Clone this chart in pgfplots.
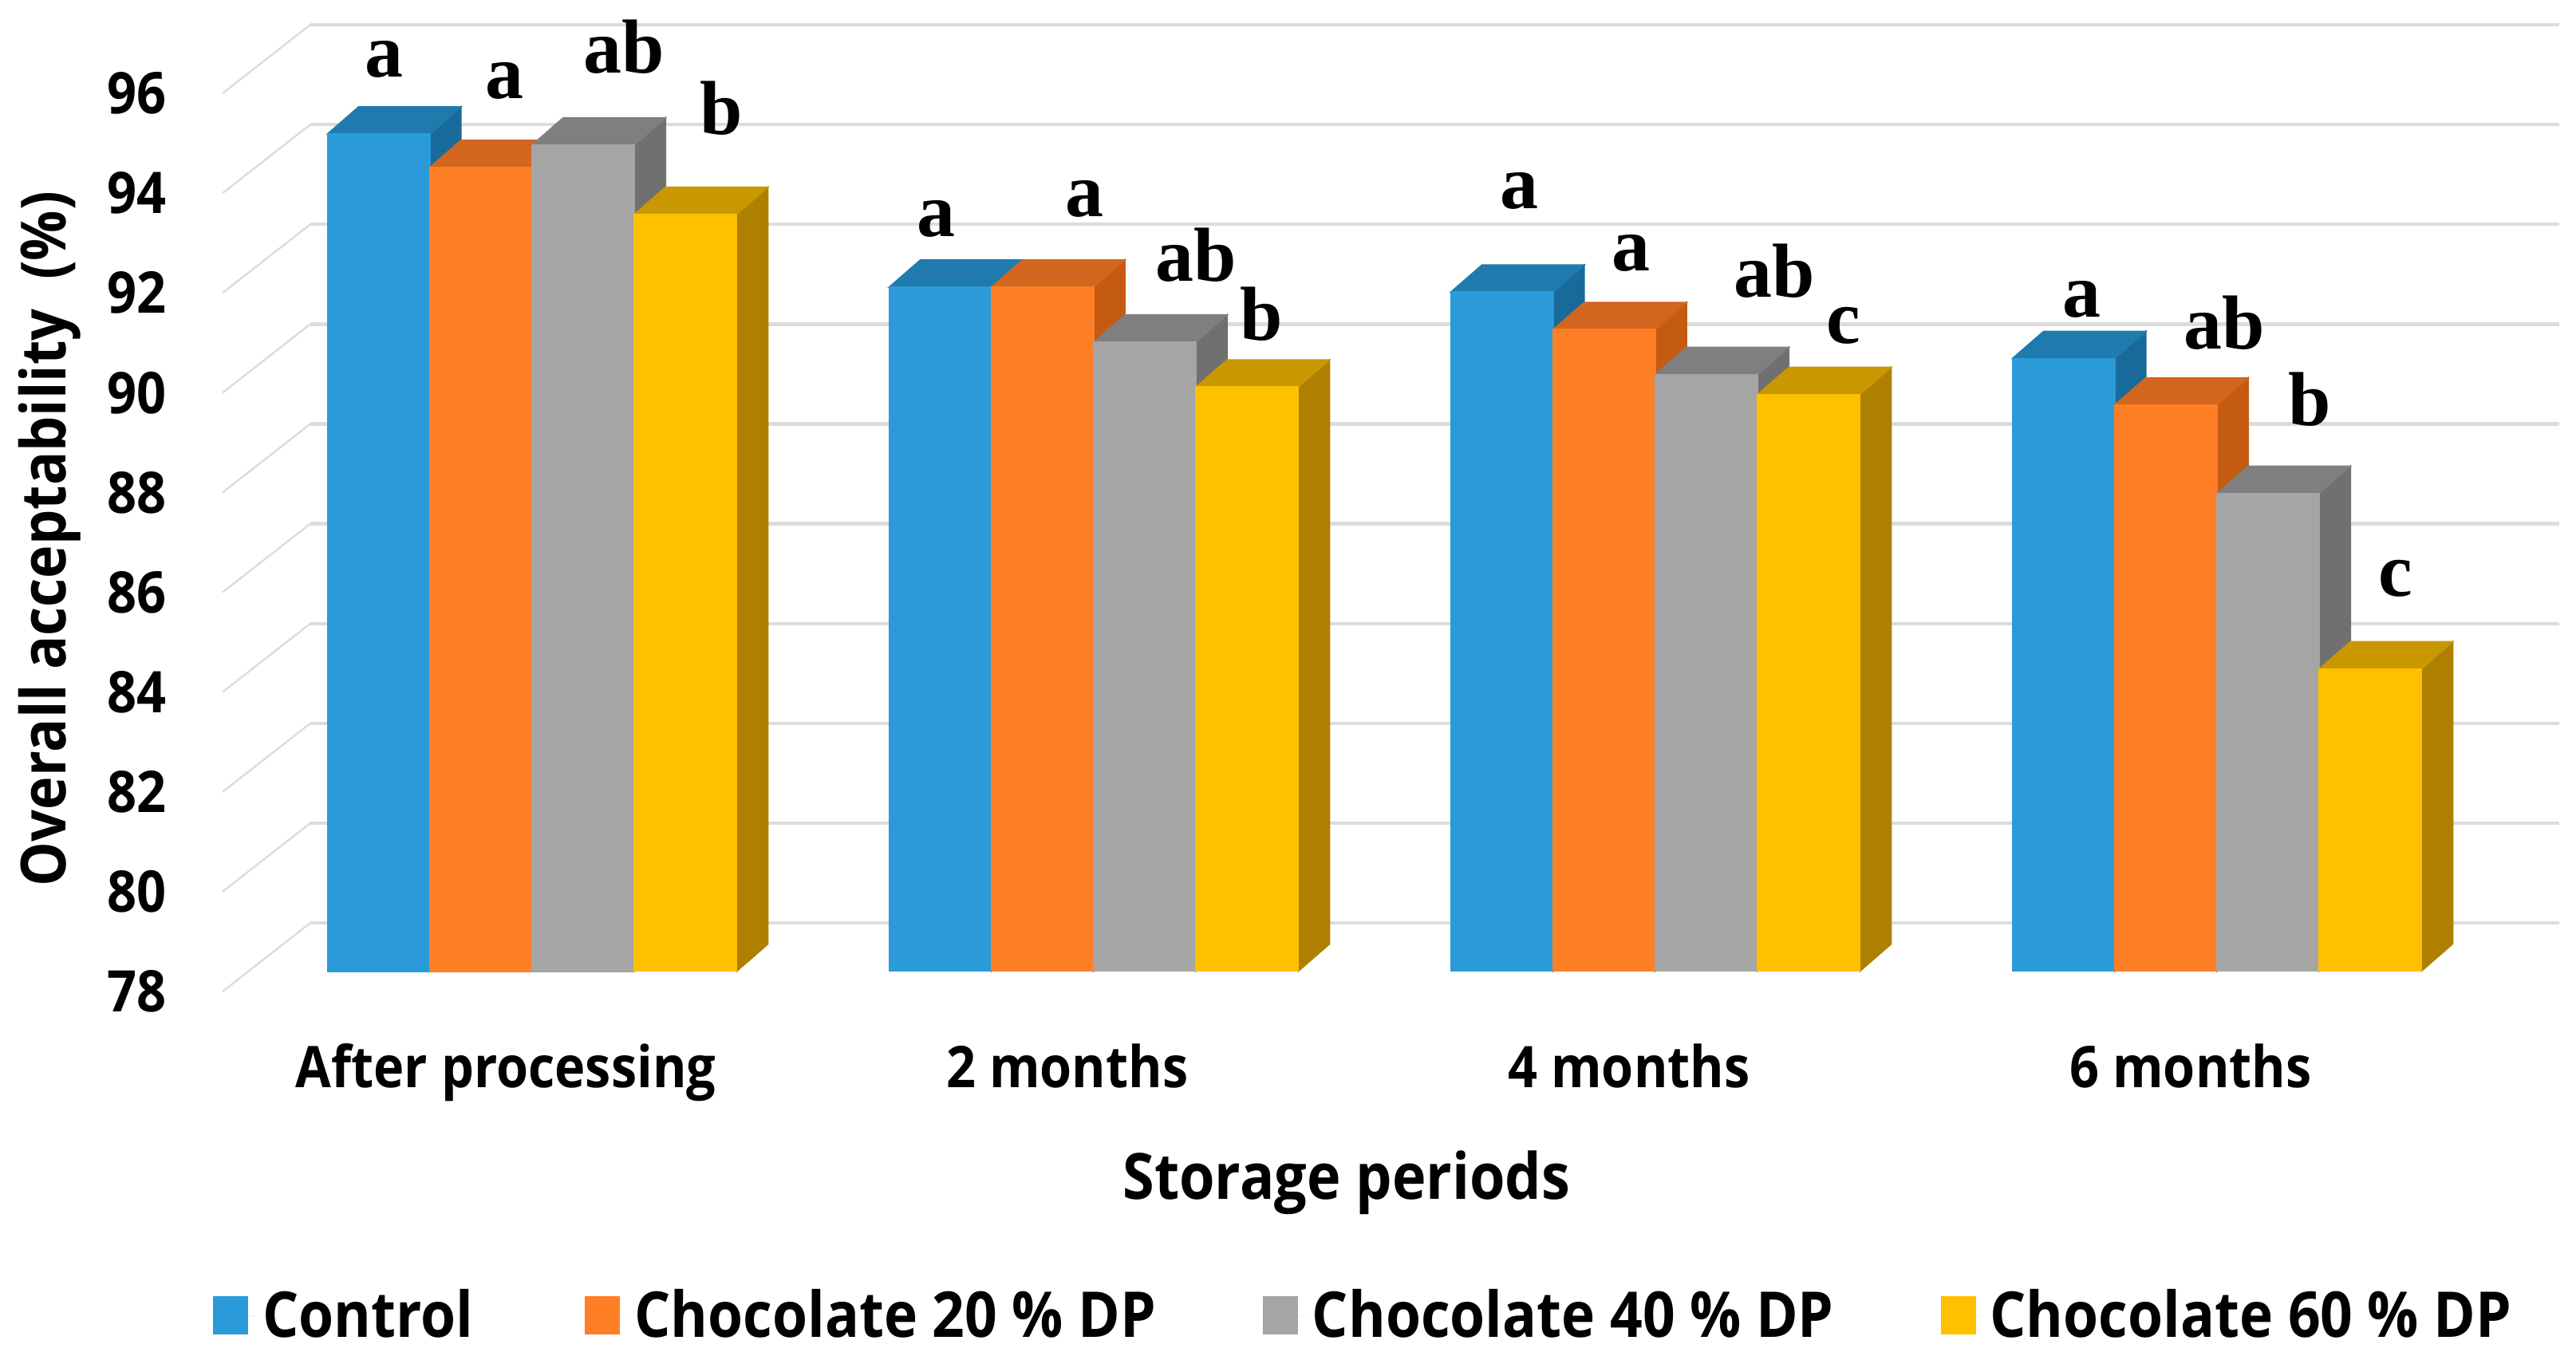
\documentclass[border=0pt]{standalone}
\usepackage{fontspec}
\usepackage{pgfplots}
\usepackage{pgfplotstable}
\pgfplotsset{compat=1.18}
\setmainfont{Open Sans}[FakeStretch=0.9]
\newfontfamily\letterfont{Liberation Serif}

\definecolor{c1}{HTML}{2A9BD8}
\definecolor{c1t}{HTML}{1F7BAE}
\definecolor{c1s}{HTML}{186A9A}
\definecolor{c2}{HTML}{FF7F27}
\definecolor{c2t}{HTML}{D2661E}
\definecolor{c2s}{HTML}{C55A11}
\definecolor{c3}{HTML}{A5A5A5}
\definecolor{c3t}{HTML}{7F7F7F}
\definecolor{c3s}{HTML}{707070}
\definecolor{c4}{HTML}{FFC000}
\definecolor{c4t}{HTML}{C99700}
\definecolor{c4s}{HTML}{AF7F00}
\definecolor{gridc}{HTML}{DCDCDC}

\pgfplotstableread{
x control dp20 dp40 dp60
0 94.77 94.10 94.55 93.16
1 91.70 91.70 90.60 89.70
2 91.60 90.85 89.95 89.55
3 90.27 89.34 87.57 84.05
}\acceptability

\pgfdeclareplotmark{void}{}
\pgfplotsset{
  front/.style n args={2}{ybar, bar width=32.06pt, bar shift=#2pt, fill=#1, draw=none,
    legend image code/.code={\path (0pt,0pt) -- (13.5pt,0pt);\fill[#1] (0pt,-6pt) rectangle (11pt,6pt);}},
  % faces of a bar, drawn at its data point (marks come after all bars, so the front goes here too)
  faces/.style n args={4}{only marks, scatter, mark=void, forget plot,
    visualization depends on={rawy \as \barv},
    scatter/@pre marker code/.code={%
      \pgfmathsetmacro\barh{(\barv-78)*15.65}%
      \begin{scope}[x=1pt,y=1pt]
      \fill[#3] ({#1+16.03},0) -- ({#1+25.78},8.5) -- ({#1+25.78},{8.5-\barh}) -- ({#1+16.03},-\barh) -- cycle;
      \fill[#2] ({#1-16.03},0) -- ({#1+16.03},0) -- ({#1+25.78},8.5) -- ({#1-6.28},8.5) -- cycle;
      \fill[#4] ({#1-16.03},0) rectangle ({#1+16.03},-\barh);
      \end{scope}},
    scatter/@post marker code/.code={}},
}
\newcommand\lbl[3]{\node[anchor=base,inner sep=0pt,font=\letterfont\bfseries\fontsize{24}{24}\selectfont] at ({#1*0.5148pt},{(822.6-#2)*0.5148pt}) {#3};}

\begin{document}
\begin{tikzpicture}
\useasboundingbox (0,0) rectangle (807.25pt,423.5pt);
% back wall, ticks and labels
\begin{axis}[
  at={(69.75pt,112.75pt)}, anchor=south west,
  scale only axis, width=732.25pt, height=281.5pt,
  xmin=-0.5511, xmax=3.6094, ymin=78, ymax=96,
  axis line style={draw=none}, tick style={draw=none},
  xtick={0,1,2,3},
  xticklabels={After processing,2 months,4 months,6 months},
  ytick={78,80,...,96},
  /pgf/number format/assume math mode=true,
  tick label style={font=\bfseries\fontsize{18}{18}\selectfont},
  y tick label style={anchor=east, xshift=-14pt},
  x tick label style={anchor=base, yshift=-30pt, xshift=-8.25pt},
  xlabel={\bfseries Storage periods},
  ylabel={\bfseries Overall acceptability\ \ (\%)},
  label style={font=\bfseries\fontsize{20}{20}\selectfont},
  x label style={at={(axis description cs:0.481,-0.2125)}, anchor=center},
  y label style={at={(axis description cs:-0.0741,0.504)}, anchor=center, font=\bfseries\fontsize{19.5}{19.5}\selectfont},
  clip=false,
]
\foreach \v in {78,80,...,96} {
  \pgfmathsetmacro\w{\v+1.374}
  \edef\temp{\noexpand\addplot[color=gridc, line width=0.6pt] coordinates {(-0.5511,\v) (-0.3949,\w)};
    \noexpand\addplot[color=gridc, line width=1.1pt] coordinates {(-0.3949,\w) (3.6094,\w)};}
  \temp
}
\end{axis}
% bars
\begin{axis}[
  at={(69.75pt,119.25pt)}, anchor=south west,
  scale only axis, width=732.25pt, height=281.5pt,
  xmin=-0.5511, xmax=3.6094, ymin=78, ymax=96,
  hide axis,
  legend columns=4,
  legend cell align=left,
  legend style={at={(axis cs:-0.5511,78)}, anchor=west, xshift=-3pt, yshift=-108pt,
    draw=none, fill=none, inner sep=0pt, outer sep=0pt,
    font=\bfseries\fontsize{19.8}{19.8}\selectfont,
    /tikz/every even column/.append style={column sep=31.5pt}},
]
\addplot[front={c1}{-48.09}] table[x=x,y=control] {\acceptability};
\addlegendentry{Control\hspace*{1.5pt}}
\addplot[faces={-48.09}{c1t}{c1s}{c1}] table[x=x,y=control] {\acceptability};
\addplot[front={c2}{-16.03}] table[x=x,y=dp20] {\acceptability};
\addlegendentry{Chocolate 20 \% DP}
\addplot[faces={-16.03}{c2t}{c2s}{c2}] table[x=x,y=dp20] {\acceptability};
\addplot[front={c3}{16.03}] table[x=x,y=dp40] {\acceptability};
\addlegendentry{Chocolate 40 \% DP}
\addplot[faces={16.03}{c3t}{c3s}{c3}] table[x=x,y=dp40] {\acceptability};
\addplot[front={c4}{48.09}] table[x=x,y=dp60] {\acceptability};
\addlegendentry{Chocolate 60 \% DP}
\addplot[faces={48.09}{c4t}{c4s}{c4}] table[x=x,y=dp60] {\acceptability};
\end{axis}
% significance letters
\lbl{234}{47}{a}\lbl{307}{60}{a}\lbl{380}{44.5}{ab}\lbl{439}{82}{b}
\lbl{570}{144}{a}\lbl{660}{132}{a}\lbl{728}{171}{ab}\lbl{768}{207}{b}
\lbl{925}{127}{a}\lbl{993}{165}{a}\lbl{1080}{181}{ab}\lbl{1122}{209}{c}
\lbl{1267}{193}{a}\lbl{1354}{212.6}{ab}\lbl{1406}{259}{b}\lbl{1458}{363}{c}
\end{tikzpicture}
\end{document}
